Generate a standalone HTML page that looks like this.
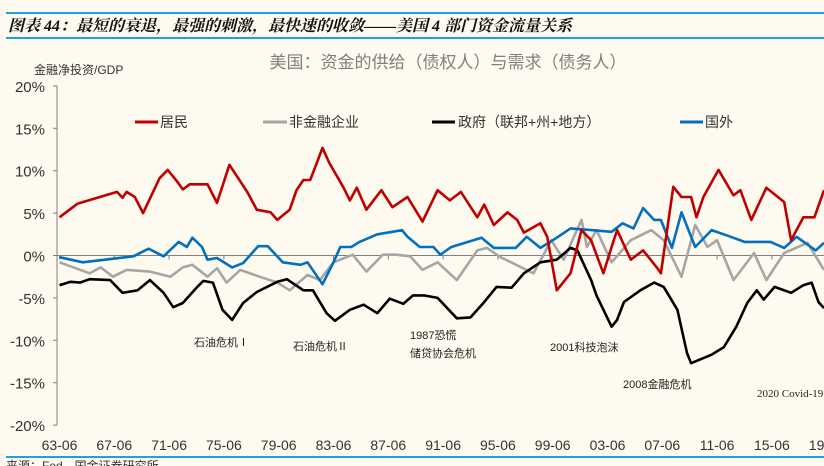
<!DOCTYPE html>
<html><head><meta charset="utf-8">
<style>
html,body{margin:0;padding:0;background:#fffaf0;}
body{width:824px;height:466px;overflow:hidden;position:relative;font-family:"Liberation Sans","Noto Sans CJK SC",sans-serif;}
svg{position:absolute;left:0;top:0;}
</style></head>
<body>
<svg id="chart" width="824" height="466" viewBox="0 0 824 466" xmlns="http://www.w3.org/2000/svg">
  <line x1="6" y1="13" x2="824" y2="13" stroke="#1aa3e0" stroke-width="2"/>
  <text x="8" y="31" font-size="16" font-weight="bold" font-style="italic" fill="#111" font-family="'Liberation Serif','Noto Serif CJK SC',serif">图表 44：最短的衰退，最强的刺激，最快速的收敛——美国 4 部门资金流量关系</text>
  <line x1="6" y1="38" x2="824" y2="38" stroke="#1aa3e0" stroke-width="2"/>
  <text x="448" y="68" font-size="17" fill="#7f7f7f" text-anchor="middle">美国：资金的供给（债权人）与需求（债务人）</text>
  <text x="34" y="74" font-size="12" fill="#333">金融净投资/GDP</text>
  <g id="axes"></g>
  <g id="series"></g>
  <g font-size="14" fill="#333">
    <line x1="135" y1="122" x2="158" y2="122" stroke="#c00000" stroke-width="3"/>
    <text x="160" y="127">居民</text>
    <line x1="263" y1="122" x2="287" y2="122" stroke="#a6a6a6" stroke-width="3"/>
    <text x="289" y="127">非金融企业</text>
    <line x1="432" y1="122" x2="455" y2="122" stroke="#000" stroke-width="3"/>
    <text x="458" y="127">政府（联邦+州+地方）</text>
    <line x1="680" y1="122" x2="703" y2="122" stroke="#0070c0" stroke-width="3"/>
    <text x="705" y="127">国外</text>
  </g>
  <g font-size="11" fill="#222">
    <text x="194" y="346">石油危机Ⅰ</text>
    <text x="293" y="350">石油危机Ⅱ</text>
    <text x="410" y="339">1987恐慌</text>
    <text x="410" y="357">储贷协会危机</text>
    <text x="550" y="351">2001科技泡沫</text>
    <text x="623" y="388">2008金融危机</text>
    <text x="757" y="397" font-family="'Liberation Serif',serif">2020 Covid-19</text>
  </g>
  <line x1="6" y1="457" x2="824" y2="457" stroke="#1aa3e0" stroke-width="2"/>
  <text x="6" y="470" font-size="12" fill="#333">来源：Fed，国金证券研究所</text>
</svg>
<script>
const yTicks = [20, 15, 10, 5, 0, -5, -10, -15, -20];
const xTickLabels = ["63-06","67-06","71-06","75-06","79-06","83-06","87-06","91-06","95-06","99-06","03-06","07-06","11-06","15-06","19-06"];
const xTickYears = [1963.5,1967.5,1971.5,1975.5,1979.5,1983.5,1987.5,1991.5,1995.5,1999.5,2003.5,2007.5,2011.5,2015.5,2019.5];

const householdYears = [1963.5,1964.8,1967.7,1968.1,1968.4,1969.0,1969.6,1970.8,1971.4,1972.1,1972.5,1973.0,1974.3,1975.0,1975.9,1977.2,1977.9,1978.9,1979.4,1980.3,1980.8,1981.3,1981.8,1982.3,1982.7,1983.2,1984.2,1984.7,1985.2,1985.9,1987.0,1987.8,1988.9,1990.0,1991.1,1992.0,1992.8,1994.0,1994.5,1995.2,1996.2,1996.9,1997.4,1998.6,1999.1,1999.8,2000.8,2001.6,2002.3,2003.2,2003.8,2004.2,2005.2,2006.1,2007.1,2007.4,2008.3,2008.9,2009.6,2010.0,2010.5,2011.6,2012.7,2013.2,2014.0,2015.1,2016.4,2016.9,2017.8,2018.6,2019.3];
const householdValues = [4.5,6.1,7.5,6.8,7.5,6.9,5.0,9.1,10.1,8.7,7.8,8.4,8.4,6.2,10.7,7.5,5.4,5.1,4.2,5.4,7.7,8.9,8.9,11.0,12.7,10.9,8.1,6.5,8.0,5.4,7.7,5.7,6.9,4.0,7.7,6.5,7.5,4.5,6.0,3.6,5.1,4.2,2.7,3.8,2.2,-4.1,-2.1,3.0,1.8,-2.1,1.0,3.0,-0.5,0.6,-1.4,-2.1,8.1,6.9,6.9,4.5,6.9,10.1,7.1,7.7,4.2,8.0,6.3,1.8,4.5,4.5,7.7];

const foreignYears = [1963.5,1965.2,1968.9,1970.0,1971.1,1972.2,1972.8,1973.2,1973.9,1974.3,1975.0,1976.1,1976.9,1978.0,1978.7,1979.8,1981.1,1981.6,1982.7,1983.5,1984.0,1984.8,1985.4,1986.7,1987.8,1988.5,1988.9,1989.8,1990.8,1991.3,1992.1,1994.3,1995.2,1996.8,1997.6,1998.6,1999.8,2000.8,2002.3,2003.8,2004.6,2005.4,2006.1,2006.9,2007.4,2008.2,2008.9,2009.9,2011.1,2012.5,2013.5,2015.4,2016.4,2017.3,2018.7,2019.3];
const foreignValues = [-0.2,-0.8,-0.1,0.8,-0.1,1.6,1.0,2.1,1.0,-0.5,-0.3,-1.4,-0.9,1.1,1.1,-0.8,-1.1,-0.8,-3.4,-0.8,1.0,1.0,1.6,2.5,2.8,3.0,2.2,1.0,1.0,0.1,1.0,2.1,0.9,0.9,2.2,0.9,2.1,3.2,3.0,2.8,3.8,3.2,5.6,4.2,4.2,0.9,5.1,1.0,3.0,2.2,1.6,1.6,0.9,2.2,0.6,1.5];

const corpYears = [1963.5,1965.7,1966.5,1967.4,1968.4,1970.1,1971.6,1972.5,1973.2,1974.3,1975.0,1975.7,1976.7,1978.1,1979.4,1980.3,1981.6,1982.5,1983.5,1984.9,1985.9,1987.1,1988.1,1989.1,1990.0,1991.1,1992.5,1994.0,1994.7,1995.7,1998.1,1999.4,2000.3,2001.6,2002.0,2002.7,2003.8,2005.2,2006.7,2007.6,2008.9,2009.9,2010.8,2011.5,2012.7,2014.2,2015.1,2016.4,2018.1,2019.3];
const corpValues = [-0.8,-2.1,-1.4,-2.5,-1.7,-1.9,-2.5,-1.4,-1.1,-2.5,-1.5,-3.2,-1.7,-2.5,-3.2,-4.1,-2.3,-2.9,-0.8,0.1,-1.9,0.1,0.1,-0.1,-1.7,-0.8,-2.9,0.6,0.9,-0.2,-2.1,1.8,-0.5,4.2,1.0,3.0,-0.8,1.8,3.0,1.8,-2.5,3.6,1.0,1.8,-2.9,0.3,-2.9,0.3,1.5,-1.7];

const govYears = [1963.5,1964.3,1965.0,1965.7,1967.2,1968.1,1969.2,1970.1,1971.1,1971.8,1972.5,1973.5,1974.0,1974.7,1975.4,1976.1,1976.9,1977.9,1979.4,1980.1,1981.3,1982.0,1983.0,1983.6,1984.7,1985.7,1986.7,1987.6,1988.6,1989.3,1990.1,1991.1,1992.5,1993.5,1994.5,1995.4,1996.5,1997.4,1998.6,1999.8,2000.8,2001.3,2002.3,2002.7,2003.8,2004.2,2004.7,2005.9,2006.9,2007.6,2008.6,2009.3,2009.6,2011.1,2012.0,2012.9,2013.7,2014.4,2014.9,2015.7,2016.9,2017.8,2018.4,2018.9,2019.3];
const govValues = [-3.5,-3.1,-3.2,-2.8,-2.9,-4.4,-4.1,-2.9,-4.4,-6.1,-5.6,-3.8,-3.0,-3.2,-6.4,-7.6,-5.6,-4.3,-3.1,-2.8,-4.1,-4.1,-6.8,-7.7,-6.4,-5.8,-6.8,-5.1,-5.7,-4.7,-4.7,-5.0,-7.4,-7.3,-5.5,-3.7,-3.8,-2.1,-0.8,-0.5,0.9,0.6,-2.9,-4.7,-8.4,-7.6,-5.5,-4.1,-3.2,-3.7,-6.4,-11.5,-12.7,-11.7,-10.8,-8.4,-5.6,-4.1,-5.2,-3.7,-4.4,-3.5,-3.2,-5.5,-6.2];

const NS = "http://www.w3.org/2000/svg";
const X0 = 59.5, PX_PER_YEAR = 13.7, Y_ZERO = 255.5, PX_PER_PCT = 8.48;
function xScale(year){ return X0 + (year - 1963.5) * PX_PER_YEAR; }
function yScale(v){ return Y_ZERO - v * PX_PER_PCT; }

const axes = document.getElementById('axes');
function mk(tag, attrs, parent){ const e=document.createElementNS(NS,tag); for(const k in attrs) e.setAttribute(k,attrs[k]); parent.appendChild(e); return e; }

const yAxis = mk('line',{x1:57,y1:yScale(20),x2:57,y2:yScale(-20),stroke:'#7f7f7f','stroke-width':1},axes);


yTicks.forEach(v=>{
  const t = mk('line',{x1:53,y1:yScale(v),x2:57,y2:yScale(v),stroke:'#7f7f7f'},axes);
  
  
  const l = mk('text',{x:45,y:yScale(v)+6,'text-anchor':'end','font-size':15,fill:'#333'},axes);
  
  
  l.textContent = v + '%';
});
const zero = mk('line',{x1:57,y1:yScale(0),x2:824,y2:yScale(0),stroke:'#7f7f7f','stroke-width':1},axes);


xTickLabels.forEach((lab,i)=>{
  const x = xScale(xTickYears[i]);
  const t = mk('line',{x1:x,y1:yScale(0),x2:x,y2:yScale(0)+4,stroke:'#7f7f7f'},axes);
  
  
  const l = mk('text',{x:x,y:450,'text-anchor':'middle','font-size':14,fill:'#333'},axes);
  
  
  l.textContent = lab;
});

const series = document.getElementById('series');
function drawLine(years, vals, color, name){
  const d = years.map((y,i)=>(i?'L':'M')+xScale(y).toFixed(1)+','+yScale(vals[i]).toFixed(1)).join(' ');
  const p = mk('path',{d:d,fill:'none',stroke:color,'stroke-width':2.6,'stroke-linejoin':'round'},series);
  
  
}
drawLine(corpYears, corpValues, '#a6a6a6', 'series-nonfinancial-corp');
drawLine(foreignYears, foreignValues, '#0070c0', 'series-foreign');
drawLine(govYears, govValues, '#000000', 'series-government');
drawLine(householdYears, householdValues, '#c00000', 'series-household');
</script>
</body></html>
